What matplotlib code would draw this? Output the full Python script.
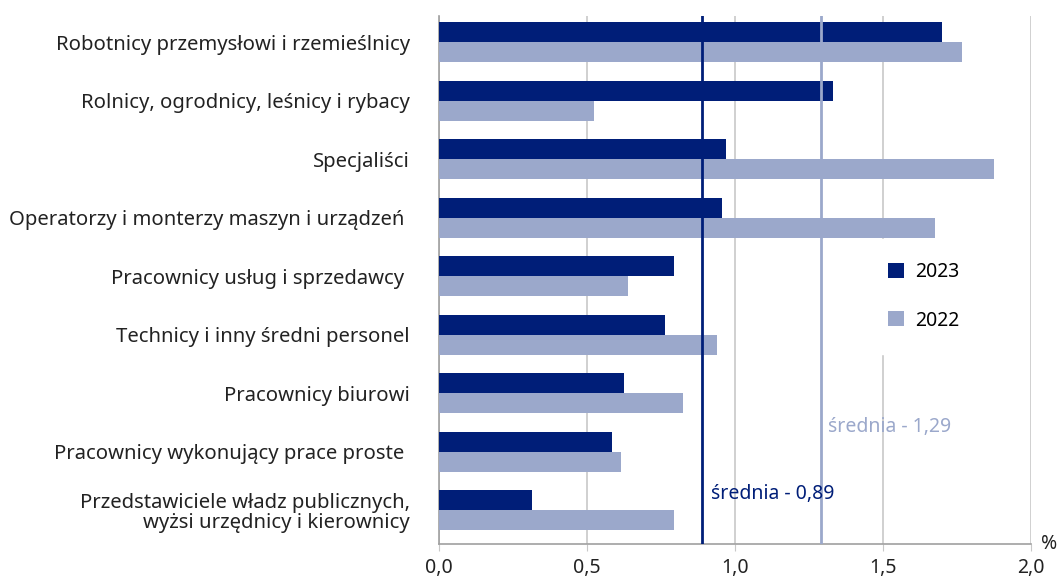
import matplotlib
matplotlib.use("Agg")
import matplotlib.pyplot as plt
import numpy as np

plt.rcParams['font.family'] = ['Noto Sans', 'DejaVu Sans']

categories = [
    "Robotnicy przemysłowi i rzemieślnicy",
    "Rolnicy, ogrodnicy, leśnicy i rybacy",
    "Specjaliści",
    "Operatorzy i monterzy maszyn i urządzeń ",
    "Pracownicy usług i sprzedawcy ",
    "Technicy i inny średni personel",
    "Pracownicy biurowi",
    "Pracownicy wykonujący prace proste ",
    "Przedstawiciele władz publicznych,\nwyżsi urzędnicy i kierownicy",
]
v2023 = [1.70, 1.33, 0.97, 0.955, 0.795, 0.765, 0.625, 0.585, 0.315]
v2022 = [1.765, 0.525, 1.875, 1.675, 0.64, 0.94, 0.825, 0.615, 0.795]
mean2023 = 0.89
mean2022 = 1.29
xticks = [0.0, 0.5, 1.0, 1.5, 2.0]
xticklabels = ["0,0", "0,5", "1,0", "1,5", "2,0"]

dark = "#001E78"
light = "#9BA8CB"
grid = "#C8C8C8"
textc = "#222222"
fs = 14
fsl = 14.6

fig = plt.figure(figsize=(10.59, 5.79), dpi=100)
ax = fig.add_axes([0.4145, 0.0604, 0.5592, 0.9119])

y = np.arange(len(categories))
h = 0.342
ax.barh(y - h/2, v2023, height=h, color=dark, label="2023", zorder=3)
ax.barh(y + h/2, v2022, height=h, color=light, label="2022", zorder=3)

ax.set_xlim(0, 2.0)
ax.set_ylim(8.58, -0.45)
ax.set_xticks(xticks)
ax.set_xticklabels(xticklabels, fontsize=fs, color=textc)
ax.set_yticks(y)
ax.set_yticklabels(categories, fontsize=fsl, color=textc, linespacing=1.0)
ax.tick_params(axis='y', length=0, pad=21)
ax.tick_params(axis='x', length=5, color=grid, pad=5)
ax.xaxis.grid(True, color=grid, linewidth=1.2, zorder=0)
for s in ['top', 'right']:
    ax.spines[s].set_visible(False)
for s in ['left', 'bottom']:
    ax.spines[s].set_color("#A0A0A0")
    ax.spines[s].set_linewidth(1.2)

ax.axvline(mean2023, color=dark, linewidth=2, zorder=4)
ax.axvline(mean2022, color=light, linewidth=2, zorder=4)

ax.text(mean2023 + 0.03, 7.72, "średnia - 0,89", color=dark, fontsize=fs,
        va='center', ha='left', zorder=5)
ax.text(mean2022 + 0.025, 6.57, "średnia - 1,29", color=light, fontsize=fs,
        va='center', ha='left', zorder=5)

ax.text(1.03, 0.0, "%", transform=ax.transAxes, fontsize=fs, color=textc,
        ha='center', va='center')

leg = ax.legend(loc='upper left', bbox_to_anchor=(0.703, 0.596), frameon=True,
                fontsize=fs, handlelength=0.8, handleheight=0.8,
                labelspacing=1.45, borderpad=1.2, handletextpad=0.6,
                fancybox=False, edgecolor='white', facecolor='white', framealpha=1)
leg.set_zorder(6)

fig.savefig("out.png", dpi=100)
